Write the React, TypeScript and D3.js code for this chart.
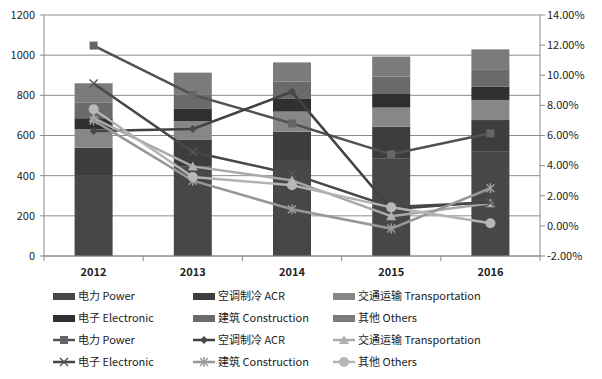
import React from "react";
import * as d3 from "d3";

const years = ["2012", "2013", "2014", "2015", "2016"];
const power = [403, 445, 478, 487, 519];
const acr = [136, 133, 141, 157, 158];
const transportation = [93, 94, 100, 95, 100];
const electronic = [54, 63, 66, 71, 66];
const construction = [77, 67, 83, 83, 87];
const others = [97, 111, 96, 100, 99];

const powerPct = [11.97, 8.7, 6.8, 4.75, 6.15];
const acrPct = [6.3, 6.43, 8.9, 1.1, 1.6];
const transportationPct = [7.15, 3.95, 3.02, 0.64, 1.5];
const electronicPct = [9.45, 4.9, 3.45, 1.25, 1.55];
const constructionPct = [7.0, 3.0, 1.1, -0.18, 2.5];
const othersPct = [7.74, 3.25, 2.7, 1.23, 0.17];

const leftTicks = [0, 200, 400, 600, 800, 1000, 1200];
const rightTicks = [-2, 0, 2, 4, 6, 8, 10, 12, 14];

const barSeries = [
  { name: "电力 Power", values: power, color: "#474747" },
  { name: "空调制冷 ACR", values: acr, color: "#3d3d3d" },
  { name: "交通运输 Transportation", values: transportation, color: "#878787" },
  { name: "电子 Electronic", values: electronic, color: "#2f2f2f" },
  { name: "建筑 Construction", values: construction, color: "#6a6a6a" },
  { name: "其他 Others", values: others, color: "#7b7b7b" },
];

const lineSeries = [
  { name: "电力 Power", values: powerPct, color: "#515151", mcolor: "#666666", marker: "square" },
  { name: "空调制冷 ACR", values: acrPct, color: "#424242", mcolor: "#4a4a4a", marker: "diamond" },
  { name: "交通运输 Transportation", values: transportationPct, color: "#a9a9a9", mcolor: "#b0b0b0", marker: "triangle" },
  { name: "电子 Electronic", values: electronicPct, color: "#474747", mcolor: "#555555", marker: "x" },
  { name: "建筑 Construction", values: constructionPct, color: "#979797", mcolor: "#9c9c9c", marker: "star" },
  { name: "其他 Others", values: othersPct, color: "#b3b3b3", mcolor: "#b8b8b8", marker: "circle" },
];

const FONT = "'Noto Sans CJK SC', 'Noto Sans', sans-serif";

function Marker({ type, x, y, color }: { type: string; x: number; y: number; color: string }) {
  if (type === "square") return <rect x={x - 4} y={y - 4} width={8} height={8} fill={color} />;
  if (type === "diamond")
    return <path d={`M${x},${y - 4}L${x + 4},${y}L${x},${y + 4}L${x - 4},${y}Z`} fill={color} />;
  if (type === "triangle")
    return <path d={`M${x},${y - 5}L${x + 5},${y + 4}L${x - 5},${y + 4}Z`} fill={color} />;
  if (type === "x")
    return (
      <path d={`M${x - 4},${y - 4}L${x + 4},${y + 4}M${x - 4},${y + 4}L${x + 4},${y - 4}`} stroke={color} strokeWidth={1.5} />
    );
  if (type === "star")
    return (
      <path
        d={`M${x - 4},${y - 4}L${x + 4},${y + 4}M${x - 4},${y + 4}L${x + 4},${y - 4}M${x},${y - 5}L${x},${y + 5}`}
        stroke={color}
        strokeWidth={1.5}
      />
    );
  return <circle cx={x} cy={y} r={5} fill={color} />;
}

export default function App() {
  const W = 602, H = 379;
  const left = 44, right = 540, top = 15, bottom = 256;
  const x = d3.scaleBand<string>().domain(years).range([left, right]).paddingInner(0.617).paddingOuter(0.3085);
  const yL = d3.scaleLinear().domain([0, 1200]).range([bottom, top]);
  const yR = d3.scaleLinear().domain([-2, 14]).range([bottom, top]);
  const step = x.step();
  const cx = (y: string) => (x(y) as number) + x.bandwidth() / 2;

  const stack = d3
    .stack<number>()
    .keys(barSeries.map((_, i) => String(i)))
    .value((d, k) => barSeries[+k].values[d]);
  const stacked = stack(years.map((_, i) => i));

  const line = d3
    .line<number>()
    .x((_, i) => cx(years[i]))
    .y((d) => yR(d));

  const legendCols = [53, 193, 333];
  const legendRows = [296, 318, 340, 362];

  return (
    <svg width={W} height={H} style={{ position: "absolute", left: 0, top: 0, background: "#fff" }} fontFamily={FONT}>
      {leftTicks.map((t) => (
        <line key={t} x1={left - 4} x2={right} y1={yL(t)} y2={yL(t)} stroke="#8c8c8c" strokeWidth={1} />
      ))}
      {stacked.map((s, si) =>
        s.map((d, i) => (
          <rect
            key={`${si}-${i}`}
            x={x(years[i])}
            width={x.bandwidth()}
            y={yL(d[1])}
            height={yL(d[0]) - yL(d[1])}
            fill={barSeries[si].color}
          />
        ))
      )}
      <line x1={left} x2={left} y1={top} y2={bottom} stroke="#8c8c8c" />
      <line x1={right} x2={right} y1={top} y2={bottom} stroke="#8c8c8c" />
      <line x1={left} x2={right} y1={bottom} y2={bottom} stroke="#8c8c8c" />
      {rightTicks.map((t) => (
        <line key={t} x1={right} x2={right + 5} y1={yR(t)} y2={yR(t)} stroke="#8c8c8c" />
      ))}
      {d3.range(years.length + 1).map((i) => (
        <line key={i} x1={left + i * step} x2={left + i * step} y1={bottom} y2={bottom + 5} stroke="#8c8c8c" />
      ))}
      {lineSeries.map((s) => (
        <g key={s.name}>
          <path d={line(s.values) || ""} fill="none" stroke={s.color} strokeWidth={2.5} />
          {s.values.map((v, i) => (
            <Marker key={i} type={s.marker} x={cx(years[i])} y={yR(v)} color={s.mcolor} />
          ))}
        </g>
      ))}
      {leftTicks.map((t) => (
        <text key={t} x={35} y={yL(t)} dy="0.35em" textAnchor="end" fontSize={11} fill="#222">
          {t}
        </text>
      ))}
      {rightTicks.map((t) => (
        <text key={t} x={547} y={yR(t)} dy="0.35em" fontSize={11} fill="#222">
          {t.toFixed(2)}%
        </text>
      ))}
      {years.map((y) => (
        <text key={y} x={cx(y)} y={276} textAnchor="middle" fontSize={11} fontWeight="bold" fill="#222">
          {y}
        </text>
      ))}
      {barSeries.map((s, i) => {
        const lx = legendCols[i % 3];
        const ly = legendRows[Math.floor(i / 3)];
        return (
          <g key={"lb" + i}>
            <rect x={lx} y={ly - 3} width={22} height={7} fill={s.color} />
            <text x={lx + 25} y={ly} dy="0.35em" fontSize={11} fill="#222">
              {s.name}
            </text>
          </g>
        );
      })}
      {lineSeries.map((s, i) => {
        const lx = legendCols[i % 3];
        const ly = legendRows[2 + Math.floor(i / 3)];
        return (
          <g key={"ll" + i}>
            <line x1={lx} x2={lx + 22} y1={ly} y2={ly} stroke={s.color} strokeWidth={2.5} />
            <Marker type={s.marker} x={lx + 11} y={ly} color={s.mcolor} />
            <text x={lx + 25} y={ly} dy="0.35em" fontSize={11} fill="#222">
              {s.name}
            </text>
          </g>
        );
      })}
    </svg>
  );
}
